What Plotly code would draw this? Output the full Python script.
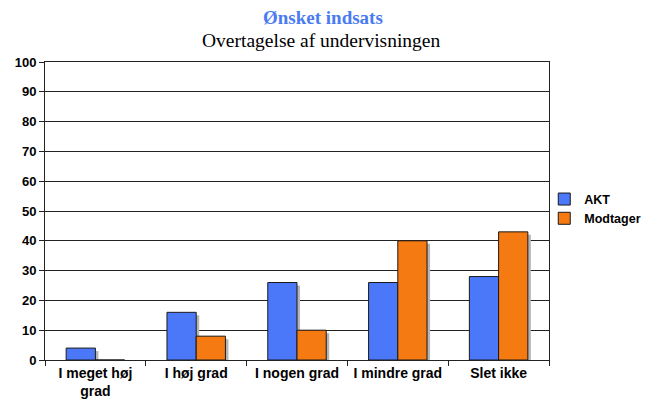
import plotly.graph_objects as go

categories = ["I meget høj<br>grad", "I høj grad", "I nogen grad", "I mindre grad", "Slet ikke"]
akt = [4, 16, 26, 26, 28]
modtager = [0, 8, 10, 40, 43]
y_ticks = list(range(0, 101, 10))

BAR_W = 0.29
SH = 0.03  # shadow shift in category units
shadow_col = "#b5b5b5"

fig = go.Figure()
# drop shadows (drawn first)
fig.add_trace(go.Bar(x=categories, y=[max(v - 1, 0) for v in akt], width=BAR_W, offset=-BAR_W + SH,
                     marker=dict(color=shadow_col, line=dict(width=0)), showlegend=False, hoverinfo="skip"))
fig.add_trace(go.Bar(x=categories, y=[max(v - 1, 0) for v in modtager], width=BAR_W, offset=SH,
                     marker=dict(color=shadow_col, line=dict(width=0)), showlegend=False, hoverinfo="skip"))
fig.add_trace(go.Bar(name="AKT", x=categories, y=akt, width=BAR_W, offset=-BAR_W,
                     marker=dict(color="#4B78F8", line=dict(color="#1a1a1a", width=1))))
fig.add_trace(go.Bar(name="Modtager", x=categories, y=modtager, width=BAR_W, offset=0,
                     marker=dict(color="#F57A12", line=dict(color="#1a1a1a", width=1))))

fig.update_layout(
    width=643, height=397,
    margin=dict(l=37, r=102, t=54, b=45, autoexpand=False),
    paper_bgcolor="white", plot_bgcolor="white",
    barmode="overlay",
    font=dict(family="Liberation Sans, Arial", size=12, color="black"),
    legend=dict(xref="container", x=0.834, y=0.507, xanchor="left", yanchor="middle",
                itemwidth=30,
                font=dict(family="Liberation Sans, Arial", size=12.5, color="black", weight="bold"),
                bgcolor="rgba(0,0,0,0)"),
)
fig.add_annotation(text="<b>Ønsket indsats</b>", x=0.552, y=1, xref="paper", yref="paper",
                   yshift=45, yanchor="middle", showarrow=False,
                   font=dict(family="Liberation Serif, Times New Roman", size=19, color="#4A7BF0"))
fig.add_annotation(text="Overtagelse af undervisningen", x=0.548, y=1, xref="paper", yref="paper",
                   yshift=22, yanchor="middle", showarrow=False,
                   font=dict(family="Liberation Serif, Times New Roman", size=19.5, color="black"))

fig.update_yaxes(range=[0, 100], tickvals=y_ticks, showgrid=True, gridcolor="#222222", gridwidth=1,
                 showline=True, linecolor="#222222", linewidth=1, mirror=True,
                 ticks="outside", ticklen=5, tickcolor="#222222",
                 tickfont=dict(family="Liberation Sans, Arial", size=13, color="black", weight="bold"),
                 zeroline=False)
fig.update_xaxes(showline=True, linecolor="#222222", linewidth=1, mirror=True,
                 ticks="outside", tickson="boundaries", ticklen=5, tickcolor="#222222", tickangle=0,
                 tickfont=dict(family="Liberation Sans, Arial", size=14, color="black", weight="bold"))

fig.write_html("out.html")
